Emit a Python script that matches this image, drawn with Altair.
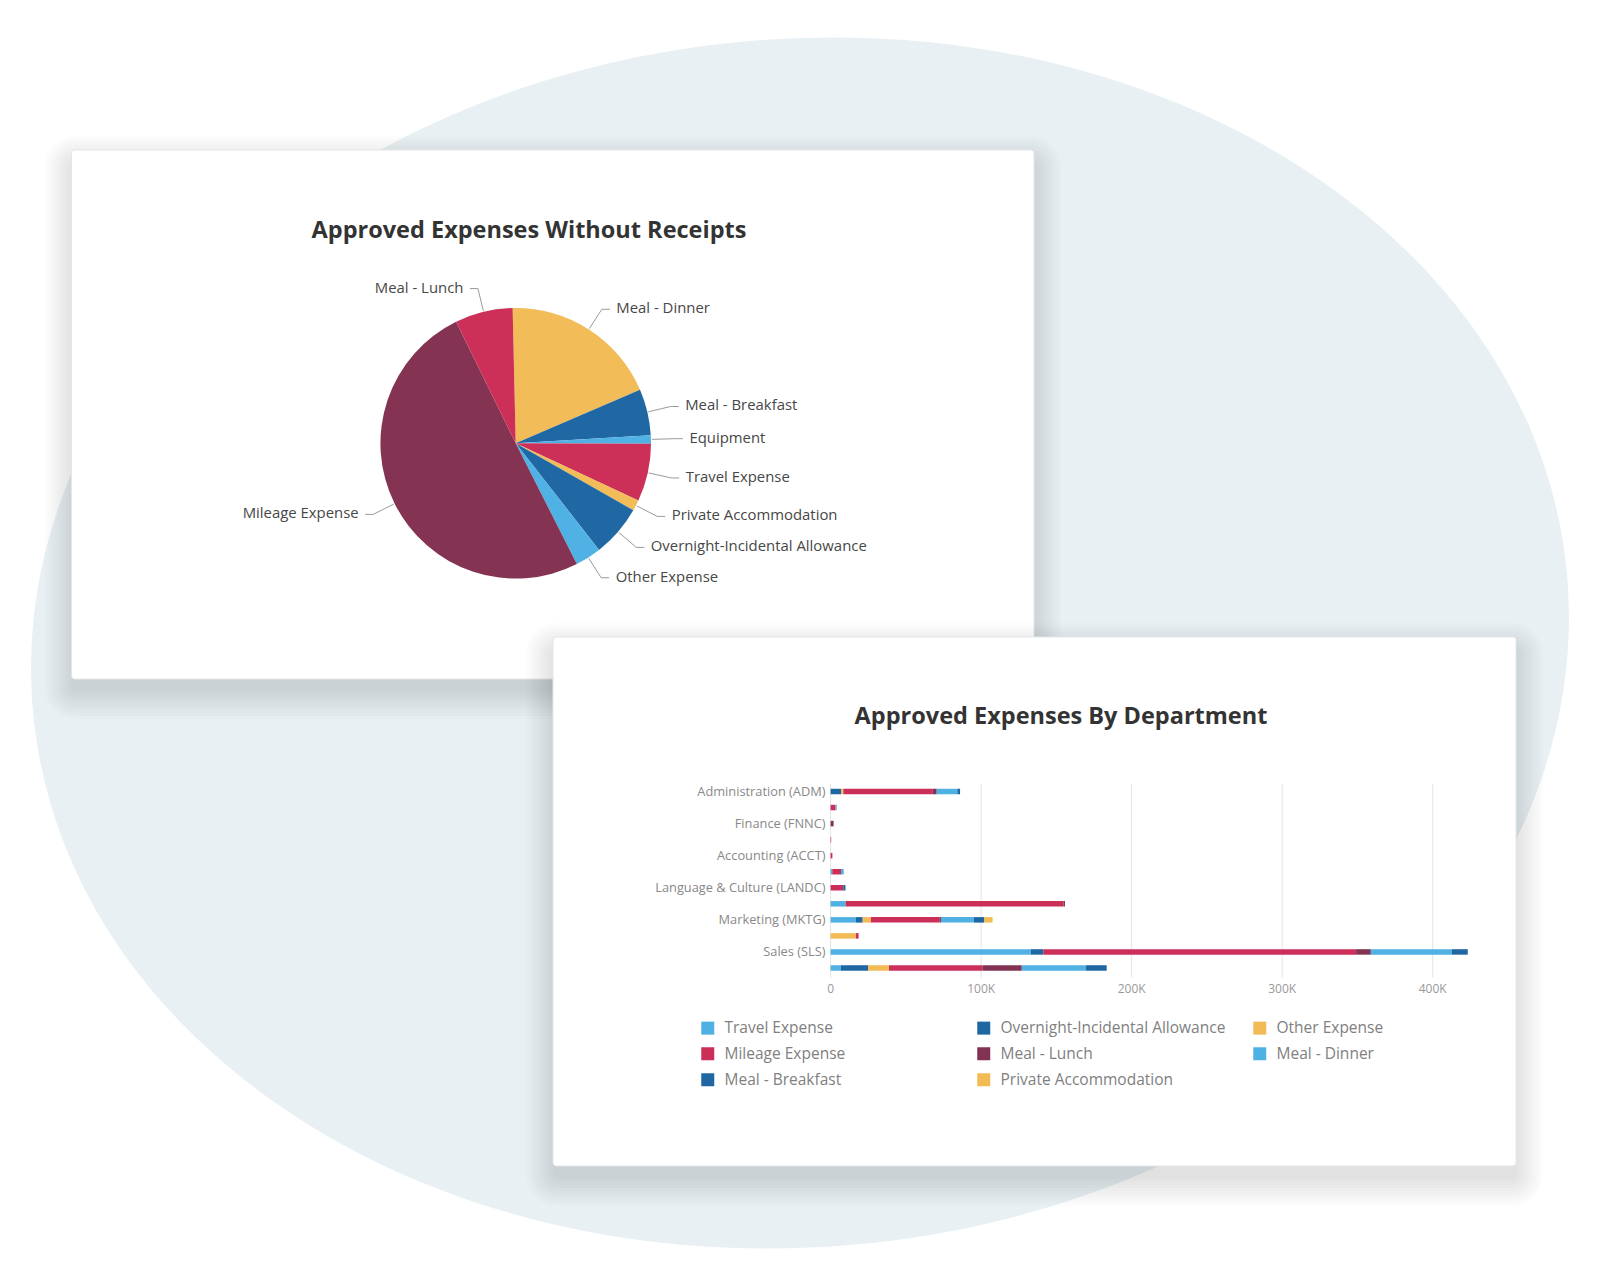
import math
import altair as alt
import pandas as pd

# ------------------------------------------------------------------ data
pie_title = "Approved Expenses Without Receipts"
pie_categories = ["Meal - Dinner", "Meal - Breakfast", "Equipment", "Travel Expense",
                  "Private Accommodation", "Overnight-Incidental Allowance",
                  "Other Expense", "Mileage Expense", "Meal - Lunch"]
pie_values = [18.9, 5.5, 1.0, 6.9, 1.3, 6.2, 3.1, 50.2, 6.9]
pie_colors = ["#f2bc58", "#2068a4", "#50b1e4", "#cc3058", "#f2bc58",
              "#2068a4", "#50b1e4", "#843352", "#cc3058"]

bar_title = "Approved Expenses By Department"
departments = ["Administration (ADM)", "Human Resources (HR)", "Finance (FNNC)",
               "Legal (LGL)", "Accounting (ACCT)", "Information Technology (IT)",
               "Language & Culture (LANDC)", "Operations (OPS)", "Marketing (MKTG)",
               "Procurement (PROC)", "Sales (SLS)", "Customer Service (CS)"]
shown_departments = ["Administration (ADM)", "Finance (FNNC)", "Accounting (ACCT)",
                     "Language & Culture (LANDC)", "Marketing (MKTG)", "Sales (SLS)"]
# stacking order of the segments (left to right)
bar_categories = ["Travel Expense", "Overnight-Incidental Allowance", "Other Expense",
                  "Mileage Expense", "Meal - Lunch", "Meal - Dinner", "Meal - Breakfast",
                  "Private Accommodation"]
# legend order (filled column by column)
legend_order = ["Travel Expense", "Mileage Expense", "Meal - Breakfast",
                "Overnight-Incidental Allowance", "Meal - Lunch", "Private Accommodation",
                "Other Expense", "Meal - Dinner"]
legend_colors = ["#4fb0e3", "#cb2f59", "#1e67a2", "#1e67a2", "#823252", "#f2bb56",
                 "#f2bb56", "#4fb0e3"]
travel_expense = [0, 0, 0, 0, 0, 1100, 0, 10000, 16800, 0, 133000, 6900]
overnight_allowance = [6900, 0, 0, 0, 0, 0, 0, 0, 4500, 0, 8300, 18100]
other_expense = [1600, 0, 0, 0, 0, 0, 0, 0, 5500, 16800, 0, 13800]
mileage_expense = [59100, 3300, 0, 400, 1200, 5800, 8400, 144700, 45800, 1800, 207800, 62000]
meal_lunch = [2900, 0, 2000, 0, 0, 0, 0, 1000, 700, 0, 9800, 26200]
meal_dinner = [13700, 800, 0, 0, 0, 1800, 0, 0, 21900, 0, 53800, 42700]
meal_breakfast = [1800, 0, 0, 0, 0, 0, 1500, 0, 6700, 0, 10600, 13700]
private_accommodation = [0, 0, 0, 0, 0, 0, 0, 0, 5700, 0, 0, 0]
tick_values = [0, 100000, 200000, 300000, 400000]
tick_labels = ["0", "100K", "200K", "300K", "400K"]

# ------------------------------------------------------------------ tables
pie_df = pd.DataFrame({"category": pie_categories, "value": pie_values})

series = [travel_expense, overnight_allowance, other_expense, mileage_expense,
          meal_lunch, meal_dinner, meal_breakfast, private_accommodation]
rows = []
for k, (cat, vals) in enumerate(zip(bar_categories, series)):
    for dept, v in zip(departments, vals):
        if v > 0:
            rows.append({"dept": dept, "category": cat, "value": v, "k": k})
bar_df = pd.DataFrame(rows)
dept_df = pd.DataFrame({"dept": shown_departments})
tick_df = pd.DataFrame({"tick": tick_values, "label": tick_labels})

# ------------------------------------------------------------------ layout helpers
W, H = 1584, 1264

def P(v):
    return v - 8  # page margin

FONT = "Open Sans"
one = alt.Data(values=[{}])

def rect(x0, y0, x1, y1, **kw):
    return alt.Chart(one).mark_rect(**kw).encode(
        x=alt.value(P(x0)), x2=alt.value(P(x1)), y=alt.value(P(y0)), y2=alt.value(P(y1)))

def shadow(x0, y0, x1, y1, dy=13, n=10, step=3.0, op=0.012):
    out = []
    for i in range(n):
        s = i * step
        out.append(rect(x0 - s, y0 - s + dy, x1 + s, y1 + s + dy,
                        color="black", opacity=op, cornerRadius=4 + s))
    return out

def text(s, x, y, **kw):
    return alt.Chart(one).mark_text(font=FONT, **kw).encode(
        x=alt.value(P(x)), y=alt.value(P(y)), text=alt.value(s))

# background blob (rotated ellipse drawn as a custom symbol, pixel units)
a, b, rot = 770, 604, -5
ex, ey = a * math.cos(math.radians(rot)), a * math.sin(math.radians(rot))
blob_path = (f"M {-ex:.1f} {-ey:.1f} A {a} {b} {rot} 1 1 {ex:.1f} {ey:.1f} "
             f"A {a} {b} {rot} 1 1 {-ex:.1f} {-ey:.1f} Z")
blob = alt.Chart(one).mark_point(shape=blob_path, filled=True, fill="#e8f0f3",
                                 strokeWidth=0, opacity=1).encode(
    x=alt.value(P(800)), y=alt.value(P(643)), size=alt.value(4))

# cards
C1 = (71.5, 150, 1034, 679)
C2 = (553, 637, 1516, 1166)
card1 = rect(*C1, color="white", stroke="#e4e6e8", strokeWidth=1, cornerRadius=3)
card2 = rect(*C2, color="white", stroke="#e4e6e8", strokeWidth=1, cornerRadius=3)

# white frame over the outer edge of the drawing area
frame = alt.Chart(one).mark_rect(fillOpacity=0, stroke="white", strokeWidth=6).encode(
    x=alt.value(0), x2=alt.value(W), y=alt.value(0), y2=alt.value(H))

# ------------------------------------------------------------------ pie
CX, CY, R = P(515.7), P(443.3), 135.3
A0 = math.radians(-1.3)
R1 = R + 24

pie = alt.Chart(pie_df).transform_window(idx="row_number()").mark_arc(radius=R).encode(
    theta=alt.Theta("value:Q", stack=True,
                    scale=alt.Scale(range=[A0, A0 + 2 * math.pi])),
    order=alt.Order("idx:Q"),
    color=alt.Color("category:N", scale=alt.Scale(domain=pie_categories, range=pie_colors),
                    legend=None),
    x=alt.value(CX), y=alt.value(CY))

pie_geo = (alt.Chart(pie_df)
           .transform_window(idx="row_number()")
           .transform_joinaggregate(total="sum(value)")
           .transform_window(cum="sum(value)", sort=[alt.SortField("idx")], frame=[None, 0])
           .transform_calculate(
               mid=f"{A0} + 2*PI*(datum.cum - datum.value/2)/datum.total")
           .transform_calculate(
               side="sin(datum.mid) >= 0 ? 1 : -1",
               sx=f"{CX} + {R + 1}*sin(datum.mid)",
               sy=f"{CY} - {R + 1}*cos(datum.mid)",
               ex=f"{CX} + {R1}*sin(datum.mid)",
               ey=f"{CY} - {R1}*cos(datum.mid)")
           .transform_calculate(
               hx="datum.ex + datum.side*8",
               tx="datum.ex + datum.side*14.5"))

leader1 = pie_geo.mark_rule(color="#9a9a9a", strokeWidth=1).encode(
    x=alt.X("sx:Q", scale=None, axis=None), y=alt.Y("sy:Q", scale=None, axis=None),
    x2="ex:Q", y2="ey:Q")
leader2 = pie_geo.mark_rule(color="#9a9a9a", strokeWidth=1).encode(
    x=alt.X("ex:Q", scale=None, axis=None), y=alt.Y("ey:Q", scale=None, axis=None),
    x2="hx:Q", y2="ey:Q")
lab_style = dict(font=FONT, fontSize=14.9, color="#474747", baseline="middle")
labels_r = pie_geo.transform_filter("datum.side > 0").mark_text(align="left", **lab_style).encode(
    x=alt.X("tx:Q", scale=None, axis=None), y=alt.Y("ey:Q", scale=None, axis=None),
    text="category:N")
labels_l = pie_geo.transform_filter("datum.side < 0").mark_text(align="right", **lab_style).encode(
    x=alt.X("tx:Q", scale=None, axis=None), y=alt.Y("ey:Q", scale=None, axis=None),
    text="category:N")

title1 = text(pie_title, 529, 231, fontSize=23.5, fontWeight="bold", color="#333333",
              align="center", baseline="middle")

# ------------------------------------------------------------------ bars
xs = alt.Scale(domain=[0, 400000], range=[P(830.6), P(1432.7)], nice=False, zero=True)
ys = alt.Scale(domain=departments, range=[P(783.5), P(976)], paddingInner=0, paddingOuter=0)

grid = alt.Chart(tick_df).mark_rule(color="#e3e3e3", strokeWidth=1).encode(
    x=alt.X("tick:Q", scale=xs, axis=None),
    y=alt.value(P(783.5)), y2=alt.value(P(977.5)))

bars = alt.Chart(bar_df).mark_bar(size=5.5).encode(
    x=alt.X("value:Q", stack="zero", scale=xs, axis=None),
    y=alt.Y("dept:N", scale=ys, axis=None),
    order=alt.Order("k:Q"),
    color=alt.Color("category:N",
                    scale=alt.Scale(domain=legend_order, range=legend_colors),
                    legend=alt.Legend(title=None, orient="none",
                                      legendX=P(700), legendY=P(1020),
                                      columns=3, gridAlign="all",
                                      symbolType="square", symbolSize=169,
                                      symbolStrokeWidth=0, labelFont=FONT,
                                      labelFontSize=15.5, labelColor="#808080",
                                      labelLimit=400, labelOffset=9, columnPadding=26,
                                      rowPadding=9, padding=0)))

xlabels = alt.Chart(tick_df).mark_text(font=FONT, fontSize=12, color="#999999",
                                       baseline="middle", align="center").encode(
    x=alt.X("tick:Q", scale=xs, axis=None), y=alt.value(P(989)), text="label:N")

ylabels = alt.Chart(dept_df).mark_text(font=FONT, fontSize=12.8, color="#888888",
                                       baseline="middle", align="right").encode(
    x=alt.value(P(825.5)), y=alt.Y("dept:N", scale=ys, axis=None), text="dept:N")

title2 = text(bar_title, 1061, 717, fontSize=23.5, fontWeight="bold", color="#333333",
              align="center", baseline="middle")

# ------------------------------------------------------------------ compose
layers = ([blob] + shadow(*C1) + [card1, title1, pie, leader1, leader2, labels_r, labels_l]
          + shadow(*C2) + [card2, title2, grid, bars, xlabels, ylabels, frame])

chart = (alt.layer(*layers)
         .resolve_scale(x="independent", y="independent", color="independent",
                        theta="independent")
         .properties(width=W, height=H,
                     autosize=alt.AutoSizeParams(type="none"), padding=0)
         .configure_view(strokeWidth=0, stroke="transparent")
         .configure(background="white"))

chart.save("out.html", embed_options={"renderer": "svg", "actions": False})
